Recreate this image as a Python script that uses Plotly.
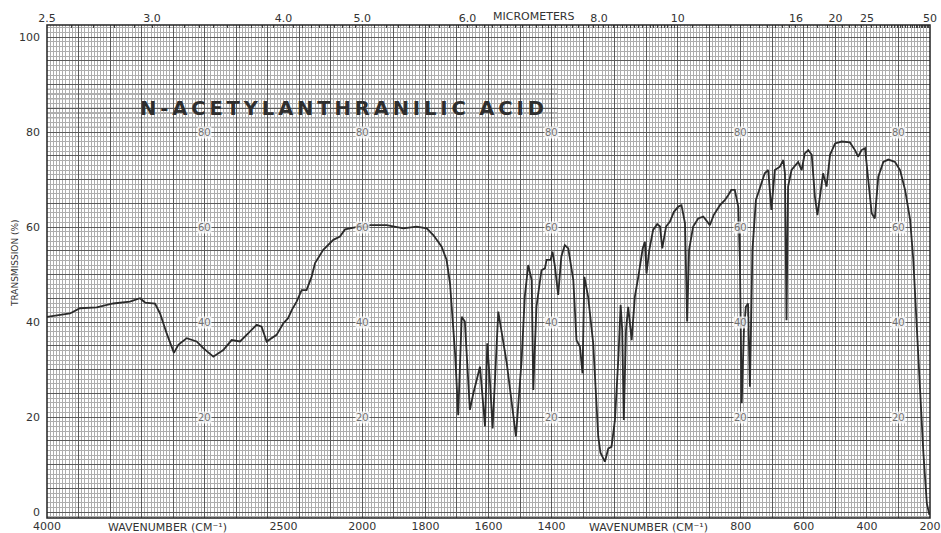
import numpy as np
import plotly.graph_objects as go

# ---------------- data ----------------
wavenumber = [4000, 3900, 3854, 3791, 3685, 3580, 3474, 3410, 3378, 3315, 3283, 3241, 3195, 3167,
              3114, 3051, 3009, 2945, 2882, 2829, 2776, 2734, 2670, 2639, 2607, 2544, 2502, 2471,
              2448, 2417, 2385, 2354, 2322, 2300, 2248, 2184, 2142, 2110, 2047, 2016, 1992, 1976,
              1923, 1870, 1828, 1796, 1775, 1749, 1733, 1722, 1714, 1706, 1696, 1685, 1675, 1659,
              1648, 1627, 1611, 1604, 1595, 1587, 1569, 1542, 1513, 1495, 1485, 1474, 1463, 1458,
              1448, 1432, 1421, 1416, 1403, 1397, 1390, 1379, 1369, 1358, 1347, 1331, 1321, 1310,
              1302, 1296, 1284, 1268, 1252, 1245, 1231, 1220, 1210, 1199, 1188, 1181, 1176, 1171,
              1164, 1157, 1146, 1136, 1125, 1111, 1104, 1099, 1090, 1078, 1065, 1056, 1049, 1037,
              1025, 1012, 998, 988, 977, 970, 964, 951, 935, 919, 898, 886, 866, 850, 840, 830,
              819, 808, 803, 797, 790, 784, 777, 771, 766, 763, 752, 742, 724, 713, 703, 692, 676,
              665, 660, 655, 650, 639, 618, 607, 597, 586, 575, 565, 557, 549, 539, 528, 517, 501,
              480, 454, 438, 428, 417, 406, 396, 385, 375, 364, 348, 332, 311, 295, 279, 263, 253,
              242, 232, 221, 210, 202]
transmission = [41.1, 41.5, 41.8, 42.9, 43.1, 43.9, 44.3, 45.0, 44.1, 43.9, 41.8, 37.6, 33.5, 35.2,
                36.6, 35.9, 34.5, 32.7, 34.1, 36.2, 35.9, 37.3, 39.4, 39.0, 35.9, 37.3, 39.7, 40.8,
                42.5, 44.3, 46.7, 46.7, 49.5, 52.4, 55.2, 57.3, 58.0, 59.5, 59.9, 60.4, 59.9, 60.4,
                60.4, 59.7, 60.1, 59.7, 58.3, 55.9, 53.1, 48.1, 40.4, 33.4, 20.4, 41.1, 40.1, 21.5,
                25.0, 30.6, 18.0, 35.5, 27.1, 17.6, 42.2, 31.3, 15.9, 32.0, 45.3, 52.0, 48.8, 25.7,
                43.2, 50.9, 51.3, 53.1, 53.1, 54.8, 52.0, 45.7, 53.8, 56.2, 55.5, 48.8, 36.2, 34.8,
                29.2, 49.5, 45.3, 35.5, 15.9, 12.5, 10.6, 13.4, 13.7, 19.4, 32.7, 43.6, 38.3, 19.4,
                38.3, 43.2, 36.2, 45.3, 49.5, 55.5, 56.9, 50.2, 55.2, 59.4, 60.6, 60.1, 55.5, 60.1,
                61.1, 63.2, 64.3, 64.6, 60.8, 40.1, 55.2, 60.1, 61.8, 62.2, 60.4, 62.5, 64.6, 65.7, 66.7, 67.8,
                67.8, 64.3, 53.7, 22.9, 38.3, 43.2, 43.9, 26.4, 44.6, 55.2, 65.7, 67.8, 71.3, 72.0, 63.6, 72.0, 72.7,
                74.1, 71.3, 40.4, 68.5, 72.0, 73.7, 72.0, 75.5, 76.2, 75.2, 66.4, 62.5, 66.4, 71.3, 68.5, 75.2, 77.6,
                78.0, 77.8, 76.2, 74.8, 76.2, 76.6, 70.6, 62.9, 61.8, 70.6, 73.7, 74.2, 73.7, 72.0, 67.8, 61.5, 53.1,
                40.4, 26.4, 12.4, 1.8, -0.6]

wn_tick_labels = [4000, 2500, 2000, 1800, 1600, 1400, 800, 600, 400, 200]
um_tick_labels = ["2.5", "3.0", "4.0", "5.0", "6.0", "8.0", "10", "16", "20", "25", "50"]
um_minor_ticks = ([round(2.5 + 0.1 * i, 2) for i in range(56)] +
                  [round(8.0 + 0.1 * i, 2) for i in range(21)] +
                  [10.5, 11, 11.5, 12, 12.5, 13, 13.5, 14, 14.5, 15, 15.5, 16, 17, 18, 19, 20, 21, 22,
                   23, 24, 25] + list(range(26, 51)))
y_tick_labels = [0, 20, 40, 60, 80, 100]
inner_label_wn = [3000, 2000, 1400, 800, 300]
inner_label_vals = [80, 60, 40, 20]
title_text = "N-ACETYLANTHRANILIC ACID"


# chart scale: 4000-2000 cm-1 at half the scale of 2000-200 cm-1
def to_display(wn):
    wn = np.asarray(wn, dtype=float)
    return np.where(wn >= 2000, (4000 - wn) / 2.0, 1000 + (2000 - wn))


xd = to_display(wavenumber)
XR = [0, 2800]
YR = [-1.26, 102.53]
FONT = "DejaVu Sans"
INK = "#2b2b2b"

fig = go.Figure()
# invisible copies anchor the grid axis and the micrometer axis
fig.add_trace(go.Scatter(x=xd, y=transmission, xaxis="x3", yaxis="y3", mode="lines",
                         line=dict(width=0), opacity=0, hoverinfo="skip", showlegend=False))
fig.add_trace(go.Scatter(x=xd, y=transmission, xaxis="x2", yaxis="y", mode="lines",
                         line=dict(width=0), opacity=0, hoverinfo="skip", showlegend=False))
fig.add_trace(go.Scatter(x=xd, y=transmission, mode="lines",
                         line=dict(color=INK, width=1.8), showlegend=False))

um_all = sorted(set([float(v) for v in um_minor_ticks] + [float(v) for v in um_tick_labels]))
um_text = []
for v in um_all:
    lab = ""
    for t in um_tick_labels:
        if abs(float(t) - v) < 1e-9:
            lab = t
    um_text.append(lab)

fig.update_layout(
    width=941, height=533, autosize=False,
    margin=dict(l=47, r=11, t=25, b=15, autoexpand=False),
    paper_bgcolor="white", plot_bgcolor="white",
    font=dict(family=FONT, color="#333", size=11),
    xaxis=dict(range=XR, showgrid=False, zeroline=False, tickmode="array", automargin=False,
               tickvals=to_display(wn_tick_labels), ticktext=[str(v) for v in wn_tick_labels],
               ticks="", ticklen=0, tickfont=dict(size=11, color="#333"), fixedrange=True),
    xaxis2=dict(range=XR, overlaying="x", side="top", anchor="y", showgrid=False, zeroline=False,
                automargin=False,
                tickmode="array", tickvals=to_display(10000.0 / np.array(um_all)), ticktext=um_text,
                ticks="inside", ticklen=3, tickwidth=1, tickcolor="#444",
                tickfont=dict(size=11, color="#333")),
    xaxis3=dict(range=XR, overlaying="x", anchor="y3", showticklabels=False, zeroline=False,
                automargin=False,
                showgrid=True, dtick=100, tick0=0, gridcolor="#5a5a5a", gridwidth=1,
                minor=dict(dtick=10, tick0=0, showgrid=True, gridcolor="#adadad", gridwidth=1)),
    yaxis=dict(range=YR, showgrid=False, zeroline=False, tickmode="array", automargin=False,
               tickvals=y_tick_labels, ticktext=[str(v) for v in y_tick_labels], ticks="",
               ticklabelstandoff=6, tickfont=dict(size=11, color="#333")),
    yaxis3=dict(range=YR, overlaying="y", anchor="x3", showticklabels=False, zeroline=False,
                automargin=False,
                showgrid=True, dtick=5, tick0=0, gridcolor="#5a5a5a", gridwidth=1,
                minor=dict(dtick=1, tick0=0, showgrid=True, gridcolor="#adadad", gridwidth=1)),
)

# darker ruling behind the title plate
for t in [81, 82, 83, 84, 85, 86, 87, 88, 89]:
    fig.add_shape(type="line", xref="x", yref="y", x0=0, x1=float(to_display(1380)), y0=t, y1=t,
                  line=dict(color="#5e5e5e", width=1), layer="below")

# frame
fig.add_shape(type="rect", xref="paper", yref="paper", x0=0, x1=1, y0=0, y1=1,
              line=dict(color="#222", width=1.5), layer="above")

# title (letter-spaced with thin spaces)
spaced = "\u2009".join(list(title_text)).replace("\u2009 \u2009", "  ")
fig.add_annotation(x=(342 - 47) / 883, y=84.9, xref="paper", yref="y", text="<b>" + spaced + "</b>",
                   xanchor="center", showarrow=False, font=dict(family=FONT, size=19.5, color="#2e2e2e"))

# inner scale labels
for w in inner_label_wn:
    for v in inner_label_vals:
        fig.add_annotation(x=float(to_display(w)), y=v, xref="x", yref="y", text=str(v),
                           showarrow=False, font=dict(size=10, color="#707070"), xanchor="center",
                           bgcolor="rgba(255,255,255,0.75)", borderpad=0)

# axis captions
fig.add_annotation(x=-32 / 883, y=0.517, xref="paper", yref="paper", text="TRANSMISSION (%)",
                   textangle=-90, showarrow=False, xanchor="center", yanchor="middle",
                   font=dict(size=9, color="#333"))
for xp in [(167 - 47) / 883, (648 - 47) / 883]:
    fig.add_annotation(x=xp, y=-0.0185, xref="paper", yref="paper", text="WAVENUMBER (CM⁻¹)",
                       showarrow=False, xanchor="center", yanchor="middle",
                       font=dict(size=11, color="#333"))
fig.add_annotation(x=(533 - 47) / 883, y=(518 - 17) / 493, xref="paper", yref="paper", text="MICROMETERS",
                   showarrow=False, xanchor="center", yanchor="middle", font=dict(size=11, color="#333"))

fig.write_html("out.html", config={"displayModeBar": False},
               post_script="document.body.style.margin='0px';document.body.style.padding='0px';"
                           "document.body.style.overflow='hidden';")
